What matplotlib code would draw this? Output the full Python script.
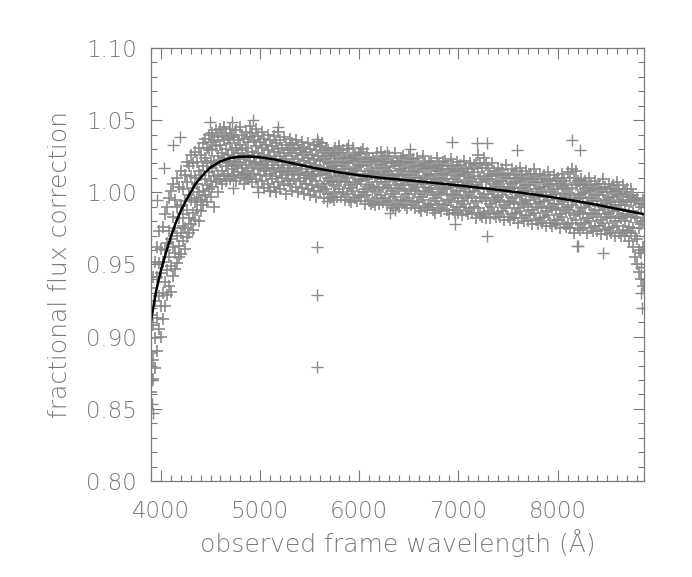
import numpy as np
import matplotlib
matplotlib.use("Agg")
import matplotlib.pyplot as plt
from matplotlib.ticker import MultipleLocator

# smooth fit curve
fit_wave = [3900, 3950, 4000, 4050, 4100, 4150, 4200, 4250, 4300, 4350, 4400, 4450,
            4500, 4600, 4700, 4800, 4900, 5000, 5100, 5200, 5400, 5600, 5800, 6000,
            6200, 6400, 6600, 6800, 7000, 7200, 7400, 7600, 7800, 8000, 8200, 8400,
            8600, 8860]
fit_flux = [0.911, 0.931, 0.946, 0.958, 0.969, 0.979, 0.987, 0.994, 1.000, 1.006, 1.010, 1.014,
            1.0172, 1.0215, 1.0238, 1.0247, 1.0248, 1.0243, 1.0233, 1.0220, 1.0190, 1.0162,
            1.0138, 1.0118, 1.0102, 1.0089, 1.0076, 1.0062, 1.0048, 1.0033, 1.0017, 1.0000,
            0.9981, 0.9960, 0.9938, 0.9913, 0.9885, 0.9850]

# measured points, 4 per wavelength column, flux in units of 0.001
blue_wave = [3900, 3920, 3940, 3960, 3980, 4000, 4020, 4040, 4060, 4080,
             4100, 4120, 4140, 4160, 4180, 4200, 4220, 4240, 4260, 4280,
             4300, 4320, 4340, 4360, 4380, 4400, 4420, 4440, 4460, 4480]
blue_flux = [
    [862, 889, 915, 934], [884, 871, 908, 941], [899, 925, 878, 952], [913, 890, 941, 962],
    [905, 928, 951, 973], [921, 944, 961, 900], [930, 952, 912, 976], [938, 921, 960, 985],
    [946, 965, 929, 990], [935, 955, 973, 996],
    [949, 931, 968, 1001], [942, 962, 983, 1006], [958, 975, 947, 995], [951, 970, 990, 1010],
    [963, 982, 955, 1004], [972, 957, 991, 1015], [966, 985, 1002, 977], [975, 994, 1012, 961],
    [969, 988, 1007, 1021], [982, 998, 972, 1018],
    [978, 995, 1011, 1026], [986, 1003, 974, 1020], [993, 1010, 981, 1028], [988, 1006, 1021, 996],
    [980, 1000, 1015, 1031], [995, 1012, 1026, 987], [1001, 991, 1018, 1034], [998, 1009, 1024, 1037],
    [1005, 993, 1020, 1031], [1002, 1014, 1029, 1040],
]

peak_wave = [4500, 4520, 4540, 4560, 4580, 4600, 4620, 4640, 4660, 4680,
             4700, 4720, 4740, 4760, 4780, 4800, 4820, 4840, 4860, 4880,
             4900, 4920, 4940, 4960, 4980, 5000, 5020, 5040, 5060, 5080,
             5100, 5120, 5140, 5160, 5180, 5200, 5220, 5240, 5260, 5280,
             5300, 5320, 5340, 5360, 5380, 5400, 5420, 5440, 5460, 5480,
             5500, 5520, 5540, 5560, 5580]
peak_flux = [
    [1008, 997, 1022, 1035], [1004, 1017, 1030, 1041], [1011, 1021, 990, 1036], [1007, 1019, 1032, 1043],
    [1012, 1025, 1000, 1038], [1009, 1021, 1033, 1044], [1015, 1027, 1006, 1039], [1011, 1024, 1036, 1045],
    [1018, 1008, 1030, 1041], [1013, 1026, 1037, 1020],
    [1009, 1022, 1034, 1044], [1016, 1029, 1011, 1040], [1012, 1025, 1038, 1019], [1018, 1008, 1031, 1043],
    [1014, 1027, 1036, 1021], [1010, 1023, 1033, 1045], [1017, 1029, 1012, 1040], [1013, 1024, 1037, 1006],
    [1019, 1031, 1010, 1042], [1015, 1026, 1035, 1009],
    [1011, 1022, 1038, 1046], [1017, 1028, 1007, 1041], [1013, 1025, 1036, 1020], [1009, 1021, 1032, 1044],
    [1016, 1027, 1004, 1039], [1012, 1024, 1035, 1019], [1008, 1020, 1031, 1042], [1015, 1026, 1003, 1037],
    [1011, 1022, 1033, 1017], [1006, 1019, 1029, 1040],
    [1013, 1001, 1025, 1036], [1009, 1021, 1032, 1016], [1004, 1017, 1028, 1039], [1011, 1023, 1000, 1034],
    [1007, 1019, 1030, 1042], [1014, 1002, 1025, 1036], [1010, 1021, 1031, 1015], [1005, 1017, 1027, 1038],
    [1012, 1023, 999, 1033], [1008, 1019, 1029, 1014],
    [1006, 1019, 1029, 1037], [1013, 1025, 1001, 1034], [1009, 1021, 1031, 1015], [1004, 1017, 1027, 1036],
    [1012, 1023, 1000, 1033], [1008, 1019, 1029, 1013], [1003, 1016, 1026, 1035], [1010, 1022, 999, 1031],
    [1006, 1018, 1028, 1012], [1002, 1014, 1024, 1034],
    [1009, 1020, 998, 1030], [1005, 1016, 1026, 1011], [1001, 1013, 1023, 1033], [1008, 1019, 997, 1029],
    [1004, 1015, 1025, 1035],
]

mid_wave = [5600, 5620, 5640, 5660, 5680, 5700, 5720, 5740, 5760, 5780,
            5800, 5820, 5840, 5860, 5880, 5900, 5920, 5940, 5960, 5980,
            6000, 6020, 6040, 6060, 6080, 6100, 6120, 6140, 6160, 6180,
            6200, 6220, 6240, 6260, 6280, 6300, 6320, 6340, 6360, 6380,
            6400, 6420, 6440, 6460, 6480, 6500, 6520, 6540, 6560, 6580,
            6600, 6620, 6640, 6660, 6680, 6700, 6720, 6740, 6760, 6780,
            6800, 6820, 6840, 6860, 6880, 6900, 6920, 6940, 6960, 6980,
            7000, 7020, 7040, 7060, 7080, 7100, 7120, 7140, 7160, 7180]
mid_flux = [
    [1001, 1012, 1022, 1032], [1004, 1015, 1025, 1034], [1006, 1017, 1027, 996], [1002, 1013, 1023, 1031],
    [999, 1010, 1020, 1029], [996, 1008, 1017, 1025], [1007, 1018, 997, 1027], [1005, 1016, 1026, 995],
    [1000, 1011, 1021, 1031], [1007, 1018, 997, 1027],
    [1002, 1013, 1023, 1032], [997, 1008, 1018, 1027], [1000, 1011, 1021, 1029], [995, 1007, 1016, 1024],
    [999, 1010, 1020, 1030], [1005, 1016, 995, 1025], [1003, 1014, 1024, 993], [1001, 1012, 1022, 1031],
    [996, 1007, 1017, 1026], [994, 1006, 1015, 1023],
    [998, 1009, 1019, 1027], [997, 1008, 1018, 1028], [1000, 1011, 1021, 1030], [1002, 1013, 1023, 992],
    [998, 1009, 1019, 1027], [994, 1005, 1015, 1024], [992, 1004, 1013, 1021], [1003, 1014, 993, 1023],
    [1001, 1012, 1022, 991], [996, 1007, 1017, 1027],
    [1002, 1013, 992, 1022], [998, 1009, 1019, 1028], [993, 1004, 1014, 1023], [996, 1007, 1017, 1025],
    [991, 1003, 1012, 1020], [994, 1005, 1015, 1025], [1001, 1012, 991, 1021], [999, 1010, 1020, 989],
    [997, 1008, 1018, 1027], [992, 1003, 1013, 1022],
    [990, 1002, 1011, 1019], [995, 1006, 1016, 1024], [994, 1005, 1015, 1025], [1001, 1012, 991, 1021],
    [999, 1010, 1020, 989], [996, 1007, 1017, 1026], [991, 1002, 1012, 1021], [994, 1005, 1015, 1023],
    [989, 1001, 1010, 1018], [993, 1004, 1014, 1024],
    [999, 1010, 989, 1019], [997, 1008, 1018, 987], [995, 1006, 1016, 1025], [990, 1001, 1011, 1020],
    [988, 1000, 1009, 1017], [992, 1003, 1013, 1021], [991, 1002, 1012, 1022], [998, 1009, 988, 1018],
    [996, 1007, 1017, 986], [994, 1005, 1015, 1024],
    [989, 1000, 1010, 1019], [987, 999, 1008, 1016], [992, 1003, 1013, 1021], [991, 1002, 1012, 1022],
    [998, 1009, 988, 1018], [995, 1006, 1016, 985], [993, 1004, 1014, 1023], [988, 999, 1009, 1018],
    [986, 998, 1007, 1015], [990, 1001, 1011, 1021],
    [996, 1007, 986, 1016], [990, 1001, 1011, 1019], [994, 1005, 1015, 984], [992, 1003, 1013, 1022],
    [987, 998, 1008, 1017], [985, 997, 1006, 1014], [989, 1000, 1010, 1020], [996, 1007, 986, 1016],
    [990, 1001, 1011, 1019], [994, 1005, 1020, 982],
]

red_wave = [7200, 7220, 7240, 7260, 7280, 7300, 7320, 7340, 7360, 7380,
            7400, 7420, 7440, 7460, 7480, 7500, 7520, 7540, 7560, 7580,
            7600, 7620, 7640, 7660, 7680, 7700, 7720, 7740, 7760, 7780,
            7800, 7820, 7840, 7860, 7880, 7900, 7920, 7940, 7960, 7980,
            8000, 8020, 8040, 8060, 8080, 8100, 8120, 8140, 8160, 8180,
            8200, 8220, 8240, 8260, 8280, 8300, 8320, 8340, 8360, 8380,
            8400, 8420, 8440, 8460, 8480, 8500, 8520, 8540, 8560, 8580,
            8600, 8620, 8640, 8660, 8680, 8700, 8720, 8740, 8760, 8780,
            8800, 8820, 8840, 8860]
red_flux = [
    [989, 1002, 1014, 1026], [984, 997, 1009, 1020], [983, 996, 1007, 1017], [986, 999, 1011, 1024],
    [994, 1008, 982, 1019], [987, 999, 1009, 1017], [992, 1003, 1013, 982], [990, 1001, 1011, 1020],
    [985, 996, 1006, 1015], [983, 995, 1004, 1012],
    [986, 997, 1007, 1017], [993, 1004, 983, 1013], [987, 998, 1008, 1016], [991, 1002, 1012, 981],
    [989, 1000, 1010, 1019], [983, 994, 1004, 1013], [981, 993, 1002, 1010], [985, 996, 1006, 1016],
    [992, 1003, 982, 1012], [986, 997, 1007, 1015],
    [989, 1000, 1010, 979], [987, 998, 1008, 1017], [982, 993, 1003, 1012], [980, 992, 1001, 1009],
    [984, 995, 1005, 1015], [990, 1001, 980, 1010], [984, 995, 1005, 1013], [988, 999, 1009, 978],
    [986, 997, 1007, 1016], [981, 992, 1002, 1011],
    [978, 990, 999, 1007], [982, 993, 1003, 1013], [989, 1000, 979, 1009], [983, 994, 1004, 1012],
    [987, 998, 1008, 977], [984, 995, 1005, 1014], [979, 990, 1000, 1009], [977, 989, 998, 1006],
    [981, 992, 1002, 1012], [988, 999, 978, 1008],
    [981, 992, 1002, 1010], [985, 996, 1006, 975], [983, 994, 1004, 1013], [978, 989, 999, 1008],
    [976, 988, 997, 1005], [978, 990, 1002, 1014], [986, 998, 975, 1010], [979, 991, 1003, 1016],
    [984, 996, 1010, 972], [981, 993, 1005, 1015],
    [975, 987, 998, 1008], [974, 986, 996, 1006], [978, 989, 999, 1009], [985, 996, 975, 1005],
    [979, 990, 1000, 1008], [982, 993, 1003, 972], [980, 991, 1001, 1010], [975, 986, 996, 1005],
    [973, 985, 994, 1002], [977, 988, 998, 1008],
    [983, 994, 973, 1003], [977, 988, 998, 1006], [981, 992, 1002, 971], [979, 990, 1000, 1009],
    [974, 985, 995, 1004], [971, 983, 992, 1000], [975, 986, 996, 1006], [982, 993, 972, 1002],
    [976, 987, 997, 1005], [980, 991, 1001, 970],
    [977, 988, 998, 1007], [972, 983, 993, 1002], [970, 982, 991, 999], [974, 985, 995, 1005],
    [980, 991, 970, 1000], [973, 984, 994, 1002], [976, 987, 997, 966], [972, 983, 993, 1002],
    [962, 975, 987, 998], [955, 970, 983, 995],
    [950, 968, 982, 996], [945, 975, 960, 992], [940, 958, 978, 990], [935, 962, 980, 995],
]

# isolated points away from the main band
outlier_wave = [3910, 3920, 3915, 3960, 4030, 4125, 4194, 4496, 4715, 4930, 5181, 4730, 4983,
                5101, 5571, 5578, 5578, 5578, 5672, 5890, 6277, 6312, 6362, 6512, 6680,
                6932, 6966, 7185, 7285, 7285, 7588, 8141, 8225, 8191, 8205, 8461,
                8845, 8855, 8835]
outlier_flux = [853, 847, 870, 995, 1017, 1033, 1038, 1049, 1049, 1050, 1045, 1003, 1000,
                1001, 1037, 962, 929, 879, 994, 1033, 1028, 986, 988, 1030, 990,
                1035, 978, 1034, 1034, 970, 1029, 1036, 1029, 963, 963, 958,
                930, 920, 948]

fig = plt.figure(figsize=(6.92, 5.77), dpi=100)
ax = fig.add_axes([0.2182, 0.1664, 0.9306 - 0.2182, 0.9168 - 0.1664])

gray = '#8a8a8a'
for waves, fluxes in [(blue_wave, blue_flux), (peak_wave, peak_flux),
                      (mid_wave, mid_flux), (red_wave, red_flux)]:
    for w, col in zip(waves, fluxes):
        ax.plot([w] * len(col), np.array(col) / 1000.0, '+', color=gray,
                markersize=8.5, markeredgewidth=1.2)
ax.plot(outlier_wave, np.array(outlier_flux) / 1000.0, '+', color=gray,
        markersize=8.5, markeredgewidth=1.0)

ax.plot(fit_wave, fit_flux, color='black', linewidth=1.8)

ax.set_xlim(3900, 8870)
ax.set_ylim(0.80, 1.10)

txt = '#7a7a7a'
fam = 'DejaVu Sans'
ax.xaxis.set_major_locator(MultipleLocator(1000))
ax.xaxis.set_minor_locator(MultipleLocator(100))
ax.yaxis.set_major_locator(MultipleLocator(0.05))
ax.yaxis.set_minor_locator(MultipleLocator(0.01))
ax.yaxis.set_major_formatter(plt.FuncFormatter(lambda v, p: '%.2f' % v))
ax.xaxis.set_major_formatter(plt.FuncFormatter(lambda v, p: '%d' % v if v < 8500 else ''))
ax.tick_params(which='both', direction='in', top=True, right=True, colors=txt,
               labelcolor=txt)
ax.tick_params(which='major', length=8, width=0.8)
ax.tick_params(which='minor', length=4, width=0.8)
ax.tick_params(axis='x', which='major', pad=14)
ax.tick_params(axis='y', which='major', pad=10)
for lab in ax.get_xticklabels() + ax.get_yticklabels():
    lab.set_fontfamily(fam)
    lab.set_fontweight('light')
    lab.set_fontsize(16.5)
for s in ax.spines.values():
    s.set_color(txt)
    s.set_linewidth(0.9)

ax.set_xlabel('observed frame wavelength (Å)', fontsize=18, color=txt, labelpad=4,
              family=fam, weight='light')
ax.set_ylabel('fractional flux correction', fontsize=18, color=txt, labelpad=10,
              family=fam, weight='light')

fig.savefig('out.png', dpi=100)
